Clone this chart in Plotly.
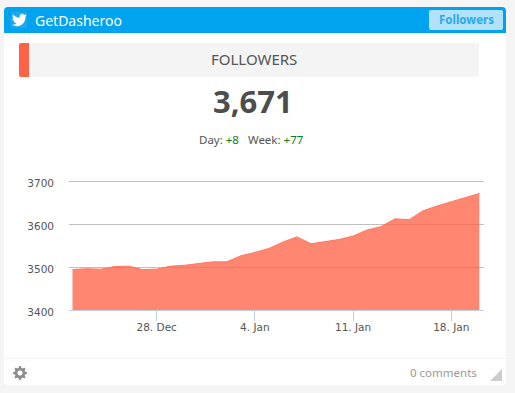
import math
import plotly.graph_objects as go

W, H = 515, 393
L, R, T, B = 69, 484, 179, 310

dates = ["2014-12-22","2014-12-23","2014-12-24","2014-12-25","2014-12-26","2014-12-27","2014-12-28",
         "2014-12-29","2014-12-30","2014-12-31","2015-01-01","2015-01-02","2015-01-03","2015-01-04",
         "2015-01-05","2015-01-06","2015-01-07","2015-01-08","2015-01-09","2015-01-10","2015-01-11",
         "2015-01-12","2015-01-13","2015-01-14","2015-01-15","2015-01-16","2015-01-17","2015-01-18",
         "2015-01-19","2015-01-20"]
followers = [3494,3496,3495,3501,3502,3494,3495,3502,3504,3508,3512,3512,3526,3534,3543,3558,3570,
             3554,3559,3564,3572,3586,3594,3612,3610,3631,3642,3652,3662,3671]
x_tick_vals = ["2014-12-28","2015-01-04","2015-01-11","2015-01-18"]
x_tick_text = ["28. Dec","4. Jan","11. Jan","18. Jan"]
y_tick_vals = [3400,3500,3600,3700]
x_window = ["2014-12-21 18:00","2015-01-20 08:00"]
y_window = [3400,3704.65]

def px(x): return (x-L)/(R-L)
def py(y): return (B-y)/(B-T)
def P(x,y): return f"{px(x):.5f},{py(y):.5f}"

def path(d, fill, layer="below", line=None):
    return dict(type="path", xref="paper", yref="paper", path=d, fillcolor=fill,
                line=dict(width=0) if line is None else line, layer=layer)

def rect(x0,y0,x1,y1,fill):
    return dict(type="rect", xref="paper", yref="paper", x0=px(x0), x1=px(x1), y0=py(y0), y1=py(y1),
                fillcolor=fill, line=dict(width=0), layer="below")

def rrect(x0,y0,x1,y1,r,fill,tl=True,tr=True,br=True,bl=True):
    d = f"M{P(x0+(r if tl else 0),y0)} L{P(x1-(r if tr else 0),y0)} "
    if tr: d += f"Q{P(x1,y0)} {P(x1,y0+r)} "
    d += f"L{P(x1,y1-(r if br else 0))} "
    if br: d += f"Q{P(x1,y1)} {P(x1-r,y1)} "
    d += f"L{P(x0+(r if bl else 0),y1)} "
    if bl: d += f"Q{P(x0,y1)} {P(x0,y1-r)} "
    d += f"L{P(x0,y0+(r if tl else 0))} "
    if tl: d += f"Q{P(x0,y0)} {P(x0+r,y0)} "
    return path(d+"Z", fill)

bird = [(23.95,4.57),(21.13,5.35),(23.29,2.62),(20.16,3.81),(18,2.4),(16.2,2.0),(14,2.7),(12.2,4.8),(11.78,8.29),
        (7.69,7.6),(4.07,5.6),(1.64,3.16),(0.97,5.64),(1.5,8),(3.16,9.73),(0.93,9.12),(1.3,11.4),(2.6,12.9),(4.88,13.94),
        (2.67,14.02),(4.0,16.3),(7.27,17.44),(4.5,19.1),(1.17,19.55),(0,19.48),(3.5,21.2),(7.56,21.69),(12,21.1),
        (16,19.1),(19,15.8),(20.8,12),(21.55,6.7),(21.53,6.07),(24,4.59)]
def bird_path(x0,y0,s):
    return "M"+" L".join(P(x0+a*s,y0+b*s) for a,b in bird)+" Z"

def gear_path(cx,cy,ro,ri,hole,n=8):
    pts=[]
    for k in range(n):
        a=2*math.pi*k/n
        w=2*math.pi/n
        for da,rad in [(-0.30*w,ri),(-0.18*w,ro),(0.18*w,ro),(0.30*w,ri)]:
            pts.append(P(cx+rad*math.cos(a+da),cy+rad*math.sin(a+da)))
    d="M"+" L".join(pts)+" Z "
    h=[P(cx+hole*math.cos(2*math.pi*k/24),cy+hole*math.sin(2*math.pi*k/24)) for k in range(24)]
    return d+"M"+" L".join(h)+" Z"

shapes = [
    rrect(4,7,506,385,4,"#ffffff"),
    rrect(4,7,506,33,4,"#00a3ee",br=False,bl=False),
    rect(11,12,27,28,"#1fa8ec"),
    path(bird_path(12,12.5,0.63),"#ffffff"),
    rrect(429,10,503,30,2,"#b2e1fa"),
    rrect(19,43,479,77,2,"#f4f4f4"),
    rrect(19,43,29,77,2,"#ff6347",tr=False,br=False),
    rect(4,358,506,359,"#f3f3f3"),
    path(gear_path(20,373,7,5.4,2.6),"#8c8c8c"),
    path(f"M{P(490,381)} L{P(502,381)} L{P(502,369)} Z","#cccccc"),
]

FONT = "Noto Sans"
def note(x,y,text,size,color,anchor="center",family=FONT):
    return dict(xref="paper",yref="paper",x=px(x),y=py(y),text=text,showarrow=False,xanchor=anchor,
                yanchor="middle",font=dict(family=family,size=size,color=color),borderpad=0)

annotations = [
    note(34,20,"GetDasheroo",14,"#ffffff","left"),
    note(466,19,"<b>Followers</b>",11.5,"#2ba9ee"),
    note(254,59,"FOLLOWERS",15,"#555555"),
    note(253,101,"<b>3,671</b>",31,"#4d4d4d"),
    note(251,139,'Day: <span style="color:#0a7d1e">+8</span>&nbsp;&nbsp; Week: <span style="color:#0a7d1e">+77</span>',11.5,"#555555"),
    note(443,372,"0 comments",11.5,"#999999"),
]

fig = go.Figure(go.Scatter(
    x=dates, y=followers, mode="lines", fill="tozeroy",
    line=dict(color="#ff7560",width=1), fillcolor="rgba(255,99,71,0.77)", hoverinfo="skip"))

fig.update_layout(
    width=W, height=H, autosize=False,
    margin=dict(l=L,r=W-R,t=T,b=H-B,pad=0),
    paper_bgcolor="#f5f5f5", plot_bgcolor="rgba(0,0,0,0)",
    showlegend=False, shapes=shapes, annotations=annotations,
    xaxis=dict(type="date",range=x_window,tickmode="array",tickvals=x_tick_vals,ticktext=x_tick_text,
               showgrid=False,zeroline=False,showline=True,linecolor="#c0d0e0",linewidth=1,
               ticks="outside",ticklen=10,tickwidth=1,tickcolor="#c0d0e0",ticklabelstandoff=-3,
               tickfont=dict(family="DejaVu Sans",size=10.5,color="#555555")),
    yaxis=dict(range=y_window,tickmode="array",tickvals=y_tick_vals,showgrid=True,gridcolor="#c0c0c0",gridwidth=1,
               zeroline=False,showline=False,ticks="",ticklabelstandoff=14,ticklabelshift=2,
               tickfont=dict(family="DejaVu Sans",size=10.5,color="#555555")),
)
fig.write_html("out.html",config=dict(displayModeBar=False),
               post_script="document.body.style.margin='0';document.documentElement.style.overflow='hidden';")
